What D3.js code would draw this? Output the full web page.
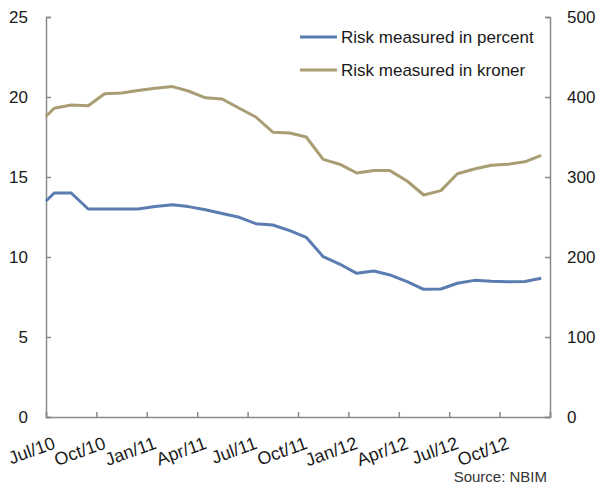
<!DOCTYPE html>
<html>
<head>
<meta charset="utf-8">
<script src="https://cdn.jsdelivr.net/npm/d3@7"></script>
<style>
  html, body { margin: 0; padding: 0; background: #fff; }
  svg { display: block; font-family: "Liberation Sans", Arial, Helvetica, sans-serif; }
</style>
</head>
<body>
<svg id="chart" width="598" height="484"></svg>
<script>
// ---- data ----
const dates = [
  "2010-07-01", "2010-07-16", "2010-08-16", "2010-09-16", "2010-10-16", "2010-11-16", "2010-12-16",
  "2011-01-16", "2011-02-16", "2011-03-16", "2011-04-16", "2011-05-16", "2011-06-16",
  "2011-07-16", "2011-08-16", "2011-09-16", "2011-10-16", "2011-11-16", "2011-12-16",
  "2012-01-16", "2012-02-16", "2012-03-16", "2012-04-16", "2012-05-16", "2012-06-16",
  "2012-07-16", "2012-08-16", "2012-09-16", "2012-10-16", "2012-11-16", "2012-12-16"
];
const riskPercent = [
  13.5, 14.0, 14.0, 13.0, 13.0, 13.0, 13.0,
  13.15, 13.27, 13.15, 12.95, 12.72, 12.48,
  12.08, 12.0, 11.65, 11.23, 10.02, 9.56,
  8.98, 9.13, 8.88, 8.46, 7.98, 8.0,
  8.36, 8.54, 8.48, 8.46, 8.47, 8.67
];
const riskKroner = [
  376, 386, 390, 389, 404, 405, 408,
  411, 413, 407.5, 399, 397.5, 386,
  375, 356, 355, 350, 322, 316,
  305, 308, 308, 295, 277.5, 283,
  304, 310, 314.6, 316, 319, 327
];
const tickDates = ["2010-07-01", "2010-10-01", "2011-01-01", "2011-04-01", "2011-07-01", "2011-10-01",
                   "2012-01-01", "2012-04-01", "2012-07-01", "2012-10-01", "2013-01-01"];
const tickLabels = ["Jul/10", "Oct/10", "Jan/11", "Apr/11", "Jul/11", "Oct/11",
                    "Jan/12", "Apr/12", "Jul/12", "Oct/12", ""];
const leftTicks = [0, 5, 10, 15, 20, 25];
const rightTicks = [0, 100, 200, 300, 400, 500];
const seriesNames = ["Risk measured in percent", "Risk measured in kroner"];
const seriesColors = ["#5a7cb0", "#a89d73"];
const sourceText = "Source: NBIM";

// ---- layout ----
const svg = d3.select("#chart");
const parse = d3.timeParse("%Y-%m-%d");
const x0 = 46, x1 = 550, yTop = 17, yBot = 417;
const axisColor = "#8a8a8a";
const textColor = "#1a1a1a";

// uniform quarter spacing like a category axis
const tickPos = tickDates.map((d, i) => x0 + (x1 - x0) * i / (tickDates.length - 1));
const xq = d3.scaleLinear().domain(tickDates.map(d => +parse(d))).range(tickPos);
const yL = d3.scaleLinear().domain([0, 25]).range([yBot, yTop]);
const yR = d3.scaleLinear().domain([0, 500]).range([yBot, yTop]);

// axes
const gx = svg.append("g").attr("transform", `translate(0,${yBot})`)
  .call(d3.axisBottom(xq).tickValues(tickDates.map(d => +parse(d))).tickSize(-5)
        .tickFormat((d, i) => tickLabels[i]));

const gl = svg.append("g").attr("transform", `translate(${x0},0)`)
  .call(d3.axisLeft(yL).tickValues(leftTicks).tickSize(-5).tickPadding(18));
const gr = svg.append("g").attr("transform", `translate(${x1},0)`)
  .call(d3.axisRight(yR).tickValues(rightTicks).tickSize(-5).tickPadding(17));

[gx, gl, gr].forEach(g => {
  g.select(".domain").attr("stroke", axisColor).attr("stroke-width", 1.5);
  g.selectAll(".tick line").attr("stroke", axisColor).attr("stroke-width", 1.5);
  g.selectAll("text").attr("fill", textColor).style("font-size", "17px")
    .style("font-family", "'Liberation Sans', Arial, sans-serif");
});
gx.selectAll("text")
  .attr("y", 0).attr("dy", 0)
  .attr("text-anchor", "end")
  .style("font-size", "18px")
  .attr("transform", "translate(10,31) rotate(-20)");

// lines
const lineL = d3.line().x((d, i) => xq(+parse(dates[i]))).y(d => yL(d));
const lineR = d3.line().x((d, i) => xq(+parse(dates[i]))).y(d => yR(d));

svg.append("path").datum(riskKroner)
  .attr("d", lineR).attr("fill", "none")
  .attr("stroke", seriesColors[1]).attr("stroke-width", 3).attr("stroke-linejoin", "round");
svg.append("path").datum(riskPercent)
  .attr("d", lineL).attr("fill", "none")
  .attr("stroke", seriesColors[0]).attr("stroke-width", 3).attr("stroke-linejoin", "round");

// legend
const legend = svg.append("g");
seriesNames.forEach((name, i) => {
  const ly = 37 + i * 33;
  legend.append("line").attr("x1", 300).attr("x2", 337).attr("y1", ly).attr("y2", ly)
    .attr("stroke", seriesColors[i]).attr("stroke-width", 3);
  legend.append("text").attr("x", 341).attr("y", ly).attr("dy", "0.35em")
    .attr("fill", textColor).style("font-size", "17px").text(name);
});

// source
svg.append("text").attr("x", 547).attr("y", 482).attr("text-anchor", "end")
  .attr("fill", "#333").style("font-size", "15px").text(sourceText);
</script>
</body>
</html>
